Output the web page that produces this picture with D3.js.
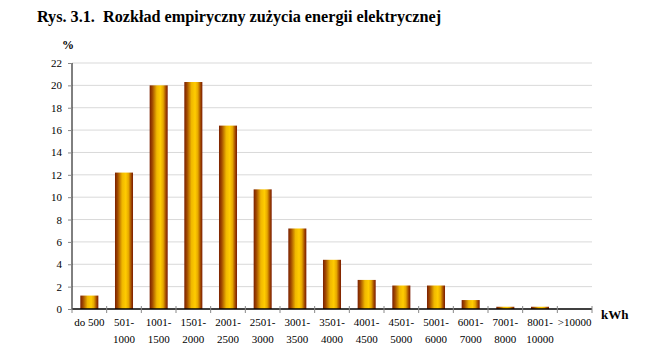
<!DOCTYPE html>
<html><head><meta charset="utf-8">
<script src="https://cdn.jsdelivr.net/npm/d3@7"></script>
<style>body{margin:0;background:#fff}svg{display:block}text{font-family:'Liberation Serif','Times New Roman',serif}</style>
</head><body><svg id="c" width="664" height="359"></svg>
<script>
const categories = [["do 500"],["501-","1000"],["1001-","1500"],["1501-","2000"],["2001-","2500"],["2501-","3000"],["3001-","3500"],["3501-","4000"],["4001-","4500"],["4501-","5000"],["5001-","6000"],["6001-","7000"],["7001-","8000"],["8001-","10000"],[">10000"]];
const values = [1.2, 12.2, 20.0, 20.3, 16.4, 10.7, 7.2, 4.4, 2.6, 2.1, 2.1, 0.8, 0.2, 0.2, 0];
const yTicks = [0,2,4,6,8,10,12,14,16,18,20,22];
const titleText = "Rys. 3.1.  Rozkład empiryczny zużycia energii elektrycznej";

const svg = d3.select("#c");
const serif = "'Liberation Serif','Times New Roman',serif";
const x0 = 72, x1 = 592, yTop = 63, yBot = 309;
const ids = d3.range(categories.length);
const x = d3.scaleBand().domain(ids).range([x0, x1]).paddingInner(0.48).paddingOuter(0.24);
const xt = d3.scaleBand().domain(ids).range([x0, x1]);
const y = d3.scaleLinear().domain([0, 22]).range([yBot, yTop]);

const defs = svg.append("defs");
const g = defs.append("linearGradient").attr("id","bg").attr("x1","0").attr("x2","1").attr("y1","0").attr("y2","0");
[[0,"#7a1f00"],[0.15,"#a14a00"],[0.4,"#f0b800"],[0.6,"#ffcc00"],[0.75,"#e6a800"],[0.9,"#a04800"],[1,"#7a1a00"]]
  .forEach(([o,c]) => g.append("stop").attr("offset", o).attr("stop-color", c));

svg.append("text").attr("x", 37).attr("y", 22).style("font-family", serif).attr("font-weight","bold")
  .attr("font-size", 16.2).attr("fill","#000").attr("xml:space","preserve").text(titleText);
svg.append("text").attr("x", 62).attr("y", 49).style("font-family", serif).attr("font-weight","bold")
  .attr("font-size", 12).text("%");

// gridlines
svg.append("g").selectAll("line").data(yTicks.filter(d=>d>0)).join("line")
  .attr("x1", x0).attr("x2", x1).attr("y1", d=>y(d)).attr("y2", d=>y(d))
  .attr("stroke","#d9d9d9").attr("stroke-width",1);

// bars
svg.append("g").selectAll("rect").data(values).join("rect")
  .attr("x", (d,i)=>x(i)).attr("width", x.bandwidth())
  .attr("y", d=>y(d)).attr("height", d=>yBot - y(d))
  .attr("fill","url(#bg)");

// y axis
const ya = d3.axisLeft(y).tickValues(yTicks).tickSize(4).tickPadding(6);
const yg = svg.append("g").attr("transform", `translate(${x0},0)`).call(ya);
yg.attr("font-family", null);
yg.select(".domain").attr("stroke","#000").attr("d", `M0,${yTop}V${yBot}`);
yg.selectAll(".tick line").attr("stroke","#888");
yg.selectAll("text").style("font-family", serif).attr("font-size", 11).attr("fill","#000");

// x axis
const xa = svg.append("g").attr("transform", `translate(0,${yBot})`);
xa.append("line").attr("x1", x0).attr("x2", x1).attr("stroke","#000").attr("stroke-width",1.5);
const tickPos = ids.map(i=>xt(i)).concat([x1]);
xa.selectAll("line.t").data(tickPos).join("line").attr("class","t")
  .attr("x1", d=>d).attr("x2", d=>d).attr("y1", -3).attr("y2", 4).attr("stroke","#888");
const lab = xa.selectAll("text.l").data(categories).join("text").attr("class","l")
  .style("font-family", serif).attr("font-size", 11).attr("fill","#000").attr("text-anchor","middle");
lab.each(function(lines, i){
  const t = d3.select(this);
  lines.forEach((s, k) => t.append("tspan").attr("x", xt(i) + xt.bandwidth()/2).attr("y", 17 + k*17).text(s));
});

svg.append("text").attr("x", 601).attr("y", 319).style("font-family", serif).attr("font-weight","bold")
  .attr("font-size", 13).text("kWh");
</script></body></html>
